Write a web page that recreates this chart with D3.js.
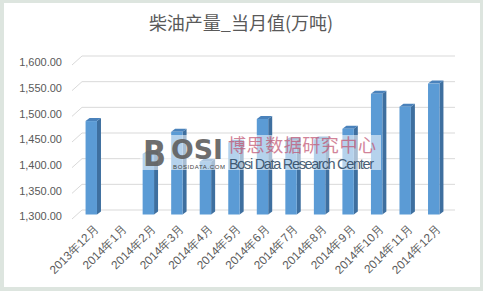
<!DOCTYPE html>
<html>
<head>
<meta charset="utf-8">
<script src="https://cdn.jsdelivr.net/npm/d3@7"></script>
<style>
  html, body { margin: 0; padding: 0; background: #fff; }
  svg { display: block; }
</style>
</head>
<body>
<div id="container"></div>
<script>
var WIDTH = 483,
	HEIGHT = 291;

// data
var months = ["2013年12月", "2014年1月", "2014年2月", "2014年3月", "2014年4月", "2014年5月",
	"2014年6月", "2014年7月", "2014年8月", "2014年9月", "2014年10月", "2014年11月", "2014年12月"];
var output = [1482, null, 1418, 1461, 1403, 1440, 1486, 1444, 1446, 1467, 1535, 1510, 1555];
var yTicks = [1300, 1350, 1400, 1450, 1500, 1550, 1600];
var title = "柴油产量_当月值(万吨)";

var DX = 4, DY = 3;          // bar depth
var WALL_DX = 10, WALL_DY = 9; // side wall depth

var xScale = d3.scaleBand().domain(months).range([77, 448]).paddingInner(0.6).paddingOuter(0.3);
var yScale = d3.scaleLinear().domain([1300, 1600]).range([214.5, 60.5]);
var fmt = d3.format(",.2f");

var svg = d3.select('#container')
	.append('svg')
	.attr('width', WIDTH)
	.attr('height', HEIGHT);

// frame
svg.append('rect').attr('width', WIDTH).attr('height', HEIGHT).attr('fill', '#dde5df');
svg.append('rect').attr('x', 4).attr('y', 3).attr('width', 476).attr('height', 284).attr('fill', '#fff');

svg.append('text')
	.attr('x', 241)
	.attr('y', 30)
	.attr('text-anchor', 'middle')
	.attr('font-family', '"Noto Sans CJK SC", sans-serif')
	.attr('font-size', 18)
	.attr('fill', '#595959')
	.text(title);

// gridlines: side wall diagonal + back wall line
var grid = svg.append('g').attr('stroke', '#d9d9d9').attr('fill', 'none').attr('stroke-width', 1);
yTicks.forEach(function(t) {
	var yb = yScale(t) - WALL_DY / 2;
	grid.append('path')
		.attr('d', 'M72,' + (yb + WALL_DY) + 'L' + (72 + WALL_DX) + ',' + yb + 'L455,' + yb);
});

svg.append('g').selectAll('text').data(yTicks).enter()
	.append('text')
	.attr('x', 62)
	.attr('y', function(d) { return yScale(d) + 2; })
	.attr('dy', '0.35em')
	.attr('text-anchor', 'end')
	.attr('font-family', '"Liberation Sans", Arial, sans-serif')
	.attr('font-size', 11)
	.attr('fill', '#595959')
	.text(function(d) { return fmt(d); });

// bars
var rows = months.map(function(m, i) { return { m: m, v: output[i] }; })
	.filter(function(d) { return d.v != null; });
var bw = xScale.bandwidth();
var bars = svg.append('g').selectAll('g').data(rows).enter().append('g');
bars.append('path')
	.attr('fill', '#3e6f9f')
	.attr('d', function(d) {
		var x = xScale(d.m) + bw, t = yScale(d.v), b = yScale(1300);
		return 'M' + x + ',' + t + 'L' + (x + DX) + ',' + (t - DY) + 'L' + (x + DX) + ',' + (b - DY) + 'L' + x + ',' + b + 'Z';
	});
bars.append('path')
	.attr('fill', '#4a82bb')
	.attr('d', function(d) {
		var x = xScale(d.m), t = yScale(d.v);
		return 'M' + x + ',' + t + 'L' + (x + DX) + ',' + (t - DY) + 'L' + (x + bw + DX) + ',' + (t - DY) + 'L' + (x + bw) + ',' + t + 'Z';
	});
bars.append('rect')
	.attr('fill', '#5b9bd5')
	.attr('x', function(d) { return xScale(d.m); })
	.attr('y', function(d) { return yScale(d.v); })
	.attr('width', bw)
	.attr('height', function(d) { return yScale(1300) - yScale(d.v); });

// category labels
svg.append('g').selectAll('text').data(months).enter()
	.append('text')
	.attr('transform', function(d) {
		return 'translate(' + (xScale(d) + bw / 2 + 5) + ',227) rotate(-45)';
	})
	.attr('text-anchor', 'end')
	.attr('dy', '0.35em')
	.attr('font-family', '"Liberation Sans", Arial, sans-serif')
	.attr('font-size', 11.8)
	.attr('fill', '#595959')
	.text(function(d) { return d; });

// watermark
var wm = svg.append('g');
wm.append('rect').attr('x', 140).attr('y', 135).attr('width', 241).attr('height', 35)
	.attr('fill', '#fff').attr('opacity', 0.55);
wm.append('text')
	.attr('x', 143).attr('y', 166)
	.attr('font-family', '"DejaVu Sans", sans-serif')
	.attr('font-weight', 'bold')
	.attr('font-size', 36)
	.attr('textLength', 23)
	.attr('lengthAdjust', 'spacingAndGlyphs')
	.attr('fill', '#5f5f5f')
	.attr('opacity', 0.9)
	.text('B');
wm.append('text')
	.attr('x', 171).attr('y', 159)
	.attr('font-family', '"DejaVu Sans", sans-serif')
	.attr('font-weight', 'bold')
	.attr('font-size', 27)
	.attr('textLength', 52)
	.attr('lengthAdjust', 'spacingAndGlyphs')
	.attr('fill', '#5f5f5f')
	.attr('opacity', 0.9)
	.text('OSI');
wm.append('text')
	.attr('x', 173).attr('y', 169)
	.attr('font-family', '"Liberation Sans", sans-serif')
	.attr('font-size', 6)
	.attr('textLength', 52)
	.attr('fill', '#444')
	.text('BOSIDATA.COM');
wm.append('text')
	.attr('x', 228).attr('y', 152)
	.attr('font-family', '"Noto Sans CJK SC", sans-serif')
	.attr('font-size', 18)
	.attr('textLength', 148)
	.attr('fill', '#c0506e')
	.attr('opacity', 0.7)
	.text('博思数据研究中心');
wm.append('text')
	.attr('x', 229).attr('y', 169)
	.attr('font-family', '"Liberation Sans Narrow", sans-serif')
	.attr('font-size', 14.5)
	.attr('textLength', 145)
	.attr('fill', '#2a4560')
	.attr('opacity', 0.85)
	.text('Bosi Data Research Center');
</script>
</body>
</html>
